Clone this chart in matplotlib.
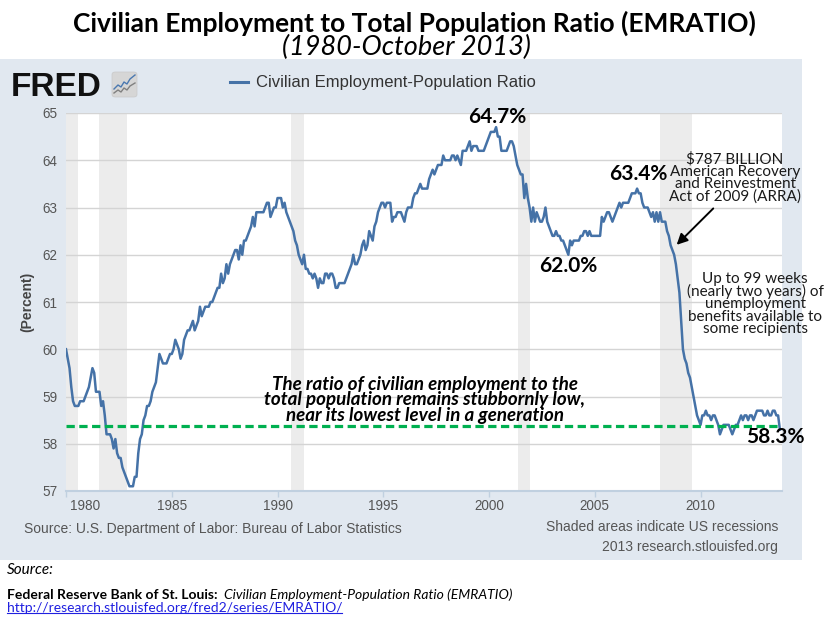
import numpy as np
import matplotlib
matplotlib.use("Agg")
import matplotlib.pyplot as plt
from matplotlib.patches import Rectangle, FancyBboxPatch
from matplotlib.lines import Line2D
from matplotlib.transforms import ScaledTranslation

# ---------------- data ----------------
emratio_1980s = [
    60.0, 59.8, 59.6, 59.2, 58.9, 58.8, 58.8, 58.8, 58.9, 58.9, 58.9, 59.0,  # 1980
    59.1, 59.2, 59.4, 59.6, 59.5, 59.1, 59.1, 59.1, 58.8, 58.9, 58.6, 58.2,  # 1981
    58.2, 58.2, 58.1, 57.9, 58.1, 57.8, 57.7, 57.7, 57.5, 57.4, 57.3, 57.2,  # 1982
    57.1, 57.1, 57.1, 57.3, 57.3, 57.8, 58.1, 58.2, 58.5, 58.6, 58.8, 58.8,  # 1983
    58.9, 59.1, 59.2, 59.3, 59.6, 59.9, 59.8, 59.7, 59.7, 59.7, 59.8, 59.9,  # 1984
    59.9, 60.0, 60.2, 60.1, 60.0, 59.8, 59.9, 60.2, 60.3, 60.4, 60.4, 60.5,  # 1985
    60.6, 60.4, 60.5, 60.6, 60.9, 60.7, 60.8, 60.9, 60.9, 60.9, 61.0, 61.0,  # 1986
    61.1, 61.2, 61.3, 61.3, 61.6, 61.4, 61.5, 61.8, 61.6, 61.8, 61.9, 62.0,  # 1987
    62.1, 62.1, 61.9, 62.2, 62.0, 62.3, 62.3, 62.4, 62.5, 62.6, 62.8, 62.6,  # 1988
    62.9, 62.9, 62.9, 62.9, 62.9, 63.0, 63.1, 63.1, 62.8, 62.9, 63.0, 63.0,  # 1989
]
emratio_1990s = [
    63.2, 63.2, 63.2, 63.0, 63.1, 62.9, 62.8, 62.7, 62.6, 62.5, 62.3, 62.2,  # 1990
    62.0, 61.9, 61.8, 62.0, 61.7, 61.7, 61.6, 61.6, 61.5, 61.6, 61.5, 61.3,  # 1991
    61.5, 61.4, 61.4, 61.6, 61.6, 61.5, 61.6, 61.6, 61.5, 61.3, 61.3, 61.4,  # 1992
    61.4, 61.4, 61.4, 61.5, 61.6, 61.7, 61.8, 62.0, 61.8, 61.8, 61.9, 62.0,  # 1993
    62.2, 62.3, 62.1, 62.2, 62.5, 62.4, 62.3, 62.6, 62.7, 62.9, 63.0, 63.1,  # 1994
    63.1, 63.0, 63.1, 63.1, 63.1, 62.7, 62.8, 62.8, 62.9, 62.9, 62.9, 62.8,  # 1995
    62.7, 62.9, 63.0, 63.0, 63.0, 63.2, 63.3, 63.3, 63.4, 63.5, 63.4, 63.4,  # 1996
    63.4, 63.4, 63.6, 63.7, 63.8, 63.7, 63.8, 63.9, 63.9, 63.9, 64.1, 64.0,  # 1997
    64.0, 64.0, 64.0, 64.1, 64.1, 64.0, 64.1, 64.0, 63.9, 64.2, 64.2, 64.2,  # 1998
    64.3, 64.4, 64.2, 64.3, 64.3, 64.3, 64.2, 64.2, 64.2, 64.2, 64.3, 64.4,  # 1999
]
emratio_2000s = [
    64.5, 64.6, 64.6, 64.6, 64.7, 64.5, 64.5, 64.2, 64.2, 64.2, 64.2, 64.3,  # 2000
    64.4, 64.4, 64.3, 64.1, 63.9, 63.8, 63.7, 63.7, 63.2, 63.5, 63.2, 63.0,  # 2001
    62.7, 63.0, 62.7, 62.9, 62.8, 62.7, 62.7, 62.8, 63.0, 62.7, 62.6, 62.5,  # 2002
    62.4, 62.4, 62.5, 62.4, 62.4, 62.3, 62.3, 62.2, 62.1, 62.0, 62.3, 62.2,  # 2003
    62.3, 62.3, 62.3, 62.3, 62.4, 62.4, 62.5, 62.5, 62.4, 62.5, 62.4, 62.4,  # 2004
    62.4, 62.4, 62.4, 62.4, 62.8, 62.7, 62.8, 62.9, 62.9, 62.8, 62.7, 62.8,  # 2005
    62.9, 63.0, 63.1, 63.0, 63.1, 63.1, 63.1, 63.1, 63.2, 63.3, 63.3, 63.3,  # 2006
    63.4, 63.3, 63.3, 63.1, 63.0, 63.0, 63.0, 62.9, 62.8, 62.9, 62.7, 62.9,  # 2007
    62.7, 62.9, 62.7, 62.7, 62.7, 62.5, 62.4, 62.2, 62.1, 62.0, 61.8, 61.5,  # 2008
    61.2, 60.6, 60.0, 59.8, 59.7, 59.5, 59.4, 59.2, 59.0, 58.8, 58.6, 58.5,  # 2009
]
emratio_2010s = [
    58.4, 58.6, 58.6, 58.7, 58.6, 58.6, 58.5, 58.6, 58.6, 58.5, 58.4, 58.2,  # 2010
    58.3, 58.4, 58.4, 58.4, 58.4, 58.3, 58.2, 58.3, 58.4, 58.4, 58.5, 58.6,  # 2011
    58.5, 58.6, 58.6, 58.5, 58.6, 58.6, 58.5, 58.6, 58.7, 58.7, 58.7, 58.7,  # 2012
    58.6, 58.6, 58.7, 58.6, 58.6, 58.7, 58.7, 58.6, 58.6, 58.3,              # 2013 (Jan-Oct)
]
start_year = 1980
recession_starts = [1980.0, 1981.57, 1990.63, 2001.36, 2008.08]
recession_ends = [1980.55, 1982.9, 1991.23, 2001.94, 2009.58]
reference_level = 58.38
x_ticks = [1980, 1985, 1990, 1995, 2000, 2005, 2010]
x_tick_labels = ["1980", "1985", "1990", "1995", "2000", "2005", "2010"]
y_ticks = [57, 58, 59, 60, 61, 62, 63, 64, 65]
y_tick_labels = ["57", "58", "59", "60", "61", "62", "63", "64", "65"]

values = np.array(emratio_1980s + emratio_1990s + emratio_2000s + emratio_2010s)
dates = start_year + np.arange(len(values)) / 12.0

# ---------------- figure ----------------
W, H = 828, 617
fig = plt.figure(figsize=(W / 100, H / 100), dpi=100)
fig.patch.set_facecolor("white")


def fx(x):
    return x / W


def fy(y):
    return 1 - y / H


CAL = "Lato"
ARI = "Liberation Sans"
GREY = "#555555"

# light blue FRED panel
fig.add_artist(Rectangle((0, fy(560)), fx(802), (560 - 59) / H,
                         transform=fig.transFigure, facecolor="#e1e8f0",
                         edgecolor="none", zorder=-5))

ax = fig.add_axes([fx(66), fy(491), fx(782) - fx(66), (491 - 113) / H])
ax.set_facecolor("white")
ax.set_xlim(1980.0, 2013.85)
ax.set_ylim(57, 65)

for s, e in zip(recession_starts, recession_ends):
    ax.axvspan(s, e, color="#ececec", lw=0, zorder=0.2)

ax.set_axisbelow(True)
ax.yaxis.grid(True, color="#d4d4d4", lw=1.0)
ax.set_yticks(y_ticks)
ax.set_yticklabels(y_tick_labels, family=ARI, fontsize=9.75, color=GREY)
ax.set_xticks(x_ticks)
ax.set_xticklabels(x_tick_labels, family=ARI, fontsize=9.75, color=GREY)
ax.tick_params(axis="y", length=0, pad=6)
ax.tick_params(axis="x", length=4, width=1, color="#c0d0e0", pad=2)
for sp in ["top", "right", "left"]:
    ax.spines[sp].set_visible(False)
ax.spines["bottom"].set_color("#c0d0e0")
ax.spines["bottom"].set_linewidth(1.5)
# first year label is justified inside the plot, as in the FRED chart
lab0 = ax.get_xticklabels()[0]
lab0.set_horizontalalignment("left")
lab0.set_transform(lab0.get_transform() + ScaledTranslation(4 / 100, 0, fig.dpi_scale_trans))

ax.plot(dates, values, color="#4572a7", lw=1.8, zorder=3, solid_joinstyle="round")
ax.axhline(reference_level, color="#00b050", lw=2.3, ls=(0, (2.6, 1.4)), zorder=4)

# y axis title
fig.text(fx(27), fy(302), "(Percent)", rotation=90, ha="center", va="center",
         family=ARI, fontsize=10, fontweight="bold", color="#444444")

# annotations
ax.text(2000.38, 64.92, "64.7%", ha="center", va="center", family=CAL,
        fontsize=15, fontweight="bold", color="black", clip_on=False, zorder=6)
ax.text(2003.74, 61.76, "62.0%", ha="center", va="center", family=CAL,
        fontsize=15, fontweight="bold", color="black", zorder=6)
ax.text(2007.05, 63.70, "63.4%", ha="center", va="center", family=CAL,
        fontsize=15, fontweight="bold", color="black", zorder=6)
ax.text(2013.52, 58.14, "58.3%", ha="center", va="center", family=CAL,
        fontsize=15, fontweight="bold", color="black", clip_on=False, zorder=6)
ax.text(2011.63, 63.62, "$787 BILLION\nAmerican Recovery\nand Reinvestment\nAct of 2009 (ARRA)",
        ha="center", va="center", family=CAL, fontsize=11, color="#1a1a1a",
        linespacing=0.85, zorder=6)
ax.annotate("", xy=(2008.87, 62.21), xytext=(2010.6, 62.98),
            arrowprops=dict(arrowstyle="-|>", color="black", lw=1.4,
                            mutation_scale=16, shrinkA=0, shrinkB=0), zorder=6)
ax.text(2012.58, 60.96, "Up to 99 weeks\n(nearly two years) of\nunemployment\nbenefits available to\nsome recipients",
        ha="center", va="center", family=CAL, fontsize=11, color="#1a1a1a",
        linespacing=0.85, clip_on=False, zorder=6)
ax.text(1996.97, 58.93, "The ratio of civilian employment to the\ntotal population remains stubbornly low,\nnear its lowest level in a generation",
        ha="center", va="center", family=CAL, fontsize=13.5, fontweight="bold",
        fontstyle="italic", color="black", linespacing=0.88, zorder=6)

# titles
fig.text(0.5, fy(32), "Civilian Employment to Total Population Ratio (EMRATIO)",
         ha="center", va="baseline", family=CAL, fontsize=19, fontweight="bold", color="black")
fig.text(fx(406), fy(55), "(1980-October 2013)", ha="center", va="baseline",
         family=CAL, fontsize=19.5, fontstyle="italic", color="black")

# FRED logo + icon
fig.text(fx(11), fy(96), "FRED", ha="left", va="baseline", family=ARI,
         fontsize=24, fontweight="bold", color="#111111")
fig.add_artist(FancyBboxPatch((fx(112), fy(97)), fx(25), 25 / H,
                              boxstyle="round,pad=0,rounding_size=0.004",
                              transform=fig.transFigure, facecolor="#d6d6d6",
                              edgecolor="#c8c8c8", lw=0.5, zorder=1))
icon_x = [114, 118, 121, 124, 127, 130, 135]
icon_blue = [89, 85, 87, 82, 84, 79, 75]
icon_grey = [93, 90, 92, 88, 90, 86, 83]
fig.add_artist(Line2D([fx(v) for v in icon_x], [fy(v) for v in icon_grey],
                      transform=fig.transFigure, color="#808080", lw=1.0, zorder=2))
fig.add_artist(Line2D([fx(v) for v in icon_x], [fy(v) for v in icon_blue],
                      transform=fig.transFigure, color="#4a78b0", lw=1.0, zorder=2))

# legend
fig.add_artist(Line2D([fx(230), fx(248)], [fy(82), fy(82)], transform=fig.transFigure,
                      color="#4572a7", lw=2.2, zorder=2))
fig.text(fx(256), fy(82), "Civilian Employment-Population Ratio", ha="left", va="center",
         family=ARI, fontsize=12, color="#333333")

# panel footer texts
fig.text(fx(24), fy(529), "Source: U.S. Department of Labor: Bureau of Labor Statistics",
         ha="left", va="center", family=ARI, fontsize=10, color=GREY)
fig.text(fx(778), fy(527), "Shaded areas indicate US recessions",
         ha="right", va="center", family=ARI, fontsize=10, color=GREY)
fig.text(fx(778), fy(547), "2013 research.stlouisfed.org",
         ha="right", va="center", family=ARI, fontsize=10, color=GREY)

# bottom source block
fig.text(fx(7), fy(570), "Source:", ha="left", va="center", family=CAL,
         fontsize=11, fontstyle="italic", color="black")
t_bold = fig.text(fx(7), fy(595), "Federal Reserve Bank of St. Louis:", ha="left",
                  va="center", family=CAL, fontsize=10, fontweight="bold", color="black")
renderer = fig.canvas.get_renderer()
bb = t_bold.get_window_extent(renderer)
fig.text((bb.x1 + 6) / W, fy(595), "Civilian Employment-Population Ratio (EMRATIO)",
         ha="left", va="center", family=CAL, fontsize=10, fontstyle="italic", color="black")
t_url = fig.text(fx(7), fy(608), "http://research.stlouisfed.org/fred2/series/EMRATIO/",
                 ha="left", va="center", family=CAL, fontsize=10, color="#2020e0")
bu = t_url.get_window_extent(renderer)
fig.add_artist(Line2D([bu.x0 / W, bu.x1 / W], [(bu.y0 + 1.5) / H, (bu.y0 + 1.5) / H],
                      transform=fig.transFigure, color="#2020e0", lw=0.8))

fig.savefig("out.png", dpi=100, facecolor="white")
